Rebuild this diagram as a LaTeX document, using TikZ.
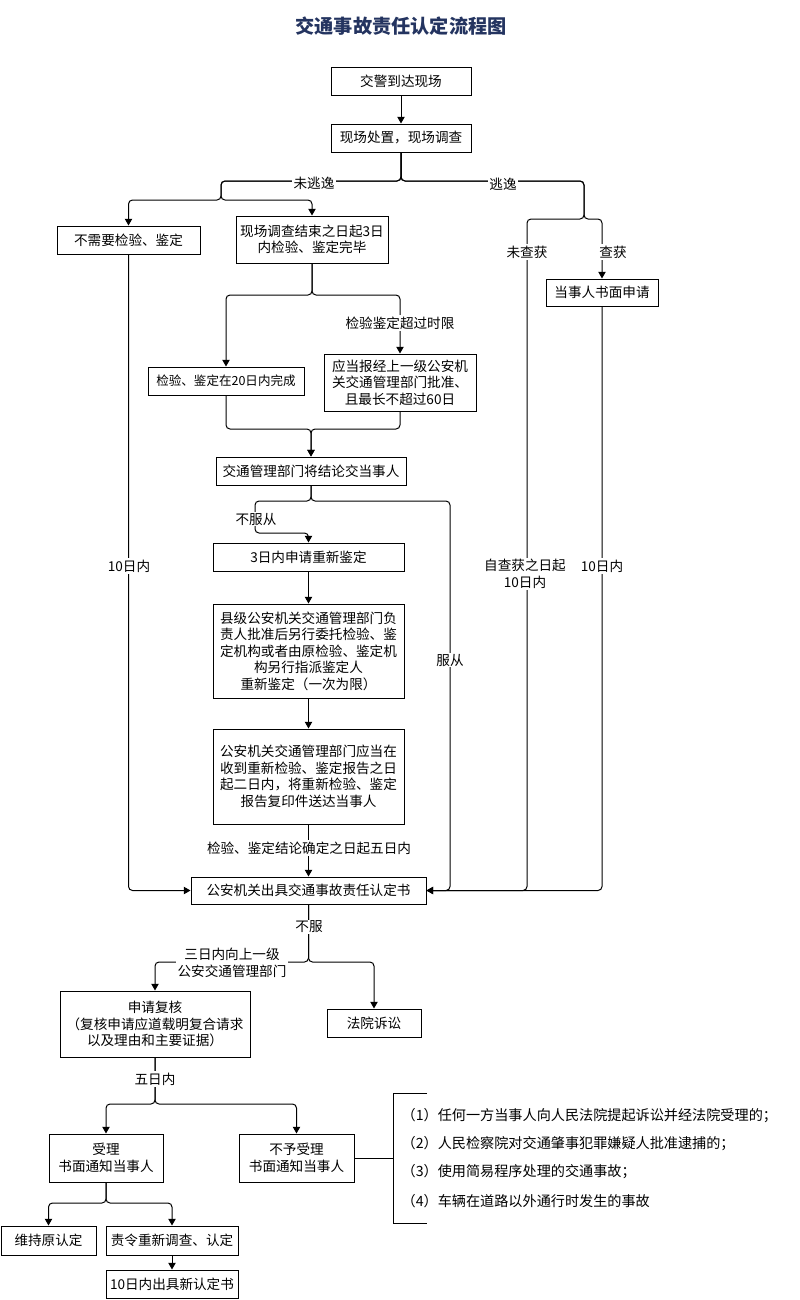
\documentclass[tikz,border=0pt]{standalone}
\usepackage{fontspec}
\setmainfont{Noto Sans CJK SC}
\usetikzlibrary{arrows.meta}
\definecolor{titleblue}{RGB}{36,52,96}

\begin{document}
\begin{tikzpicture}[x=0.75pt,y=-0.75pt,
  font=\fontsize{10.2}{12.4}\selectfont,
  box/.style 2 args={draw,line width=0.75pt,minimum width=#1*0.75pt,minimum height=#2*0.75pt,inner sep=1pt,align=center},
  link/.style={line width=0.75pt,rounded corners=3pt},
  arr/.style={link,-{Triangle[length=5pt,width=5.5pt]}},
  tag/.style={fill=white,inner sep=1pt,align=center},
  case/.style={anchor=west,font=\fontsize{10.6}{12.4}\selectfont}]
\useasboundingbox (0,0) rectangle (800,1300);

\node[font=\fontsize{14.4}{16}\selectfont\bfseries,text=titleblue] (title) at (401,26) {交通事故责任认定流程图}; % title

% boxes
\node[box={140}{28}] (arrive) at (401,81) {交警到达现场};
\node[box={140}{28}] (survey) at (401,138) {现场处置，现场调查};
\node[box={143}{28}] (noneed) at (128.5,240) {不需要检验、鉴定};
\node[box={152}{47}] (within3) at (312,239.5) {现场调查结束之日起3日\\内检验、鉴定完毕};
\node[box={112}{27}] (apply) at (602,292.5) {当事人书面申请};
\node[box={156}{28},font=\fontsize{9.4}{11}\selectfont] (in20) at (226,381) {检验、鉴定在20日内完成};
\node[box={152}{57}] (over60) at (400,382.5) {应当报经上一级公安机\\关交通管理部门批准、\\且最长不超过60日};
\node[box={190}{28}] (notify) at (311,471) {交通管理部门将结论交当事人};
\node[box={191}{28}] (reapply) at (308.5,557) {3日内申请重新鉴定};
\node[box={191}{94}] (county) at (308.5,651) {县级公安机关交通管理部门负\\责人批准后另行委托检验、鉴\\定机构或者由原检验、鉴定机\\构另行指派鉴定人\\重新鉴定（一次为限）};
\node[box={191}{95}] (deliver) at (308.5,776.5) {公安机关交通管理部门应当在\\收到重新检验、鉴定报告之日\\起二日内，将重新检验、鉴定\\报告复印件送达当事人};
\node[box={235}{27}] (cert) at (308.5,890.5) {公安机关出具交通事故责任认定书};
\node[box={190}{66}] (review) at (155,1024) {申请复核\\（复核申请应道载明复合请求\\以及理由和主要证据）};
\node[box={94}{28}] (court) at (374,1023) {法院诉讼};
\node[box={114}{48}] (accept) at (106,1158) {受理\\书面通知当事人};
\node[box={115}{48}] (reject) at (296.5,1158) {不予受理\\书面通知当事人};
\node[box={95}{29}] (keep) at (48.5,1240.5) {维持原认定};
\node[box={132}{29}] (redo) at (172,1240.5) {责令重新调查、认定};
\node[box={132}{28}] (newcert) at (172,1284) {10日内出具新认定书};

% branch points
\coordinate (j1) at (401,181);
\coordinate (nf) at (221,200); % not fled
\coordinate (ft) at (584,219); % fled
\coordinate (nc) at (527,890.5); % not caught
\coordinate (ck) at (312,295);
\coordinate (mg) at (311,429);
\coordinate (dj) at (311,501);
\coordinate (ds) at (255,533);
\coordinate (sv) at (450,890.5);
\coordinate (bj) at (308.5,962);
\coordinate (rj) at (155,1104);
\coordinate (aj) at (106,1203);
\coordinate (bk) at (393,1158);

% connectors
\draw[arr] (arrive) -- (survey);
\draw[arr] (survey.south) -- (j1) -| (nf) -| (noneed.north);
\draw[arr] (survey.south) -- (j1) -| (nf) -| (within3.north);
\draw[arr] (survey.south) -- (j1) -| (ft) -| (apply.north);
\draw[link] (survey.south) -- (j1) -| (ft) -| (nc) -- (cert.east);
\draw[arr] (within3.south) -- (ck) -| (in20.north);
\draw[arr] (within3.south) -- (ck) -| (over60.north);
\draw[arr] (in20.south) |- (mg) -- (notify.north);
\draw[arr] (over60.south) |- (mg) -- (notify.north);
\draw[arr] (notify.south) -- (dj) -| (ds) -| (reapply.north);
\draw[arr] (notify.south) -- (dj) -| (sv) -- (cert.east);
\draw[arr] (reapply) -- (county);
\draw[arr] (county) -- (deliver);
\draw[arr] (deliver) -- (cert);
\draw[arr] (noneed.south) |- (cert.west);
\draw[arr] (apply.south) |- (cert.east);
\draw[arr] (cert.south) -- (bj) -| (review.north);
\draw[arr] (cert.south) -- (bj) -| (court.north);
\draw[arr] (review.south) -- (rj) -| (accept.north);
\draw[arr] (review.south) -- (rj) -| (reject.north);
\draw[arr] (accept.south) -- (aj) -| (keep.north);
\draw[arr] (accept.south) -- (aj) -| (redo.north);
\draw[arr] (redo) -- (newcert);

% bracket of cases
\draw[line width=0.75pt] (427,1093) -- (393,1093) -- (393,1223) -- (427,1223);
\draw[link] (reject.east) -- (bk);
\node[case] (c1) at (397,1116) {（1）任何一方当事人向人民法院提起诉讼并经法院受理的；};
\node[case] (c2) at (397,1144) {（2）人民检察院对交通肇事犯罪嫌疑人批准逮捕的；};
\node[case] (c3) at (397,1172) {（3）使用简易程序处理的交通事故；};
\node[case] (c4) at (397,1201) {（4）车辆在道路以外通行时发生的事故};

% labels on lines
\node[tag] (l1) at (314,183) {未逃逸};
\node[tag] (l2) at (503,184) {逃逸};
\node[tag] (l3) at (527,252) {未查获};
\node[tag] (l4) at (613,252) {查获};
\node[tag] (l5) at (400,323) {检验鉴定超过时限};
\node[tag] (l6) at (256,519) {不服从};
\node[tag] (l7) at (129,566) {10日内};
\node[tag] (l8) at (525,574) {自查获之日起\\10日内};
\node[tag] (l9) at (602,566) {10日内};
\node[tag] (l10) at (450,660) {服从};
\node[tag] (l11) at (309,848) {检验、鉴定结论确定之日起五日内};
\node[tag] (l12) at (309,927) {不服};
\node[tag] (l13) at (232,963) {三日内向上一级\\公安交通管理部门};
\node[tag] (l14) at (155,1079) {五日内};
\end{tikzpicture}
\end{document}
